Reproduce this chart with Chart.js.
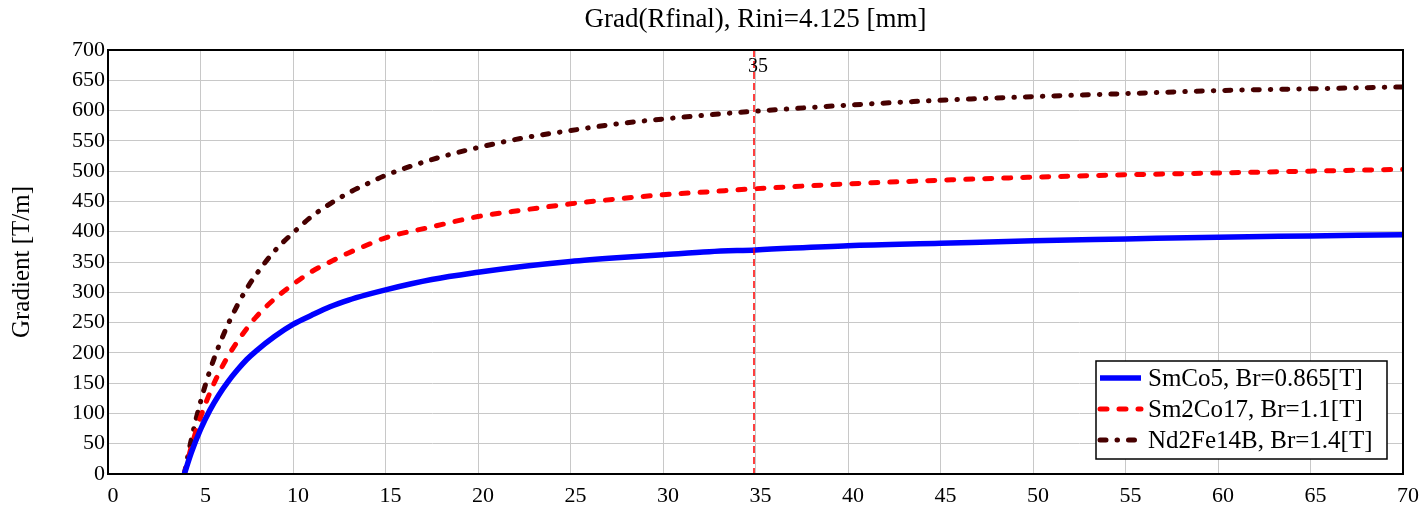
<!DOCTYPE html>
<html>
<head>
<meta charset="utf-8">
<script src="https://cdn.jsdelivr.net/npm/chart.js@4/dist/chart.umd.min.js"></script>
<style>
  html, body { margin: 0; padding: 0; background: #fff; }
  #wrap { width: 1424px; height: 511px; }
</style>
</head>
<body>
<div id="wrap"><canvas id="c" width="1424" height="511"></canvas></div>
<script>
// Rfinal [mm]
const rfinal = [4.125, 4.5, 5, 5.5, 6, 6.5, 7, 7.5, 8, 9, 10, 11, 12, 13, 14, 15, 17.5, 20, 22.5, 25, 27.5, 30, 32.5, 35, 40, 45, 50, 55, 60, 65, 70];
// Gradient [T/m]
const smco5   = [0, 35, 73.5, 105, 131, 153, 172, 189, 203, 227, 247, 262, 276, 287, 296, 304, 321, 333, 343, 351, 357, 362, 367, 370, 377, 381, 385, 388, 391, 393, 395];
const sm2co17 = [0, 44.5, 93.5, 133.5, 167, 195, 219, 240, 259, 289, 313, 334, 350, 365, 378, 390, 408, 425, 436, 446, 454, 461, 466, 471, 479, 485, 490, 494, 497, 500, 503];
const ndfeb   = [0, 56.6, 119, 170, 212, 248, 279, 306, 329, 368, 398, 425, 446, 464, 479, 493, 519, 539, 555, 567, 578, 586, 593, 599, 609, 617, 623, 628, 633, 636, 639];
const seriesLabels = ["SmCo5, Br=0.865[T]", "Sm2Co17, Br=1.1[T]", "Nd2Fe14B, Br=1.4[T]"];
const markerX = 35;
const xTicks = [0, 5, 10, 15, 20, 25, 30, 35, 40, 45, 50, 55, 60, 65, 70];
const yTicks = [0, 50, 100, 150, 200, 250, 300, 350, 400, 450, 500, 550, 600, 650, 700];

const FONT = "'Liberation Serif', 'Times New Roman', serif";
const pts = (ys) => rfinal.map((x, i) => ({ x: x, y: ys[i] }));

const extras = {
  id: 'extras',
  afterLayout(chart) {
    const tb = chart.titleBlock, a = chart.chartArea;
    if (tb && a) {
      tb.left = a.left;
      tb.right = a.right;
      tb.width = a.right - a.left;
    }
  },
  afterDatasetsDraw(chart) {
    const ctx = chart.ctx, a = chart.chartArea;
    const xs = chart.scales.x;
    const px = xs.getPixelForValue(markerX) - 1.5;
    ctx.save();
    // marker line
    ctx.globalAlpha = 1;
    ctx.strokeStyle = 'rgb(255,0,0)';
    ctx.lineWidth = 1.5;
    ctx.setLineDash([7, 4]);
    ctx.beginPath();
    ctx.moveTo(px, a.top);
    ctx.lineTo(px, a.bottom);
    ctx.stroke();
    ctx.setLineDash([]);
    ctx.fillStyle = '#000';
    ctx.font = '20px ' + FONT;
    ctx.textAlign = 'center';
    ctx.textBaseline = 'middle';
    ctx.fillText(String(markerX), px + 4, a.top + 17);
    // frame
    ctx.strokeStyle = '#000';
    ctx.lineWidth = 2;
    ctx.strokeRect(a.left, a.top, a.right - a.left, a.bottom - a.top);
    // legend box
    const bx = 1096, by = 361, bw = 291, bh = 98;
    ctx.fillStyle = '#fff';
    ctx.fillRect(bx, by, bw, bh);
    ctx.lineWidth = 1.5;
    ctx.strokeStyle = '#000';
    ctx.strokeRect(bx, by, bw, bh);
    ctx.font = '25px ' + FONT;
    ctx.textBaseline = 'middle';
    ctx.textAlign = 'left';
    chart.data.datasets.forEach((ds, i) => {
      const y = by + 17 + i * 31;
      ctx.strokeStyle = ds.borderColor;
      ctx.lineWidth = ds.borderWidth;
      ctx.setLineDash(ds.borderDash || []);
      ctx.lineCap = ds.borderCapStyle || 'butt';
      ctx.beginPath();
      ctx.moveTo(bx + 4, y);
      ctx.lineTo(bx + 45, y);
      ctx.stroke();
      ctx.setLineDash([]);
      ctx.fillStyle = '#000';
      ctx.fillText(ds.label, bx + 52, y + 1);
    });
    ctx.restore();
  }
};

new Chart(document.getElementById('c'), {
  type: 'line',
  data: {
    datasets: [
      { label: seriesLabels[0], data: pts(smco5), borderColor: '#0000ff', borderWidth: 5.5, pointRadius: 0, cubicInterpolationMode: 'monotone', fill: false },
      { label: seriesLabels[1], data: pts(sm2co17), borderColor: '#ff0000', borderWidth: 5, borderDash: [7, 12], borderCapStyle: 'round', pointRadius: 0, cubicInterpolationMode: 'monotone', fill: false },
      { label: seriesLabels[2], data: pts(ndfeb), borderColor: '#470000', borderWidth: 5, borderDash: [6, 11, 0.5, 11], borderCapStyle: 'round', pointRadius: 0, cubicInterpolationMode: 'monotone', fill: false }
    ]
  },
  options: {
    responsive: false,
    animation: false,
    events: [],
    layout: { padding: { left: 0, right: 21, top: 0, bottom: 0 } },
    plugins: {
      legend: { display: false },
      tooltip: { enabled: false },
      title: {
        display: true,
        text: 'Grad(Rfinal), Rini=4.125 [mm]',
        color: '#000',
        font: { family: FONT, size: 27, weight: 'normal' },
        padding: { top: 4, bottom: 13.6 }
      }
    },
    scales: {
      x: {
        type: 'linear',
        min: 0, max: 70,
        afterBuildTicks: (s) => { s.ticks = xTicks.map(v => ({ value: v })); },
        afterFit: (s) => { s.height = 37; },
        grid: { color: '#c8c8c8', lineWidth: 1, drawTicks: false },
        border: { color: '#000', width: 2 },
        ticks: { color: '#000', font: { family: FONT, size: 22 }, padding: 9, labelOffset: 5, maxRotation: 0, autoSkip: false }
      },
      y: {
        type: 'linear',
        min: 0, max: 700,
        afterBuildTicks: (s) => { s.ticks = yTicks.map(v => ({ value: v })); },
        afterFit: (s) => { s.width = 108; },
        grid: { color: '#c8c8c8', lineWidth: 1, drawTicks: false },
        border: { color: '#000', width: 2 },
        title: { display: true, text: 'Gradient [T/m]', color: '#000', font: { family: FONT, size: 25 }, padding: { top: 7, bottom: 0 } },
        ticks: { color: '#000', font: { family: FONT, size: 22 }, padding: 3, autoSkip: false }
      }
    }
  },
  plugins: [extras]
});
</script>
</body>
</html>
